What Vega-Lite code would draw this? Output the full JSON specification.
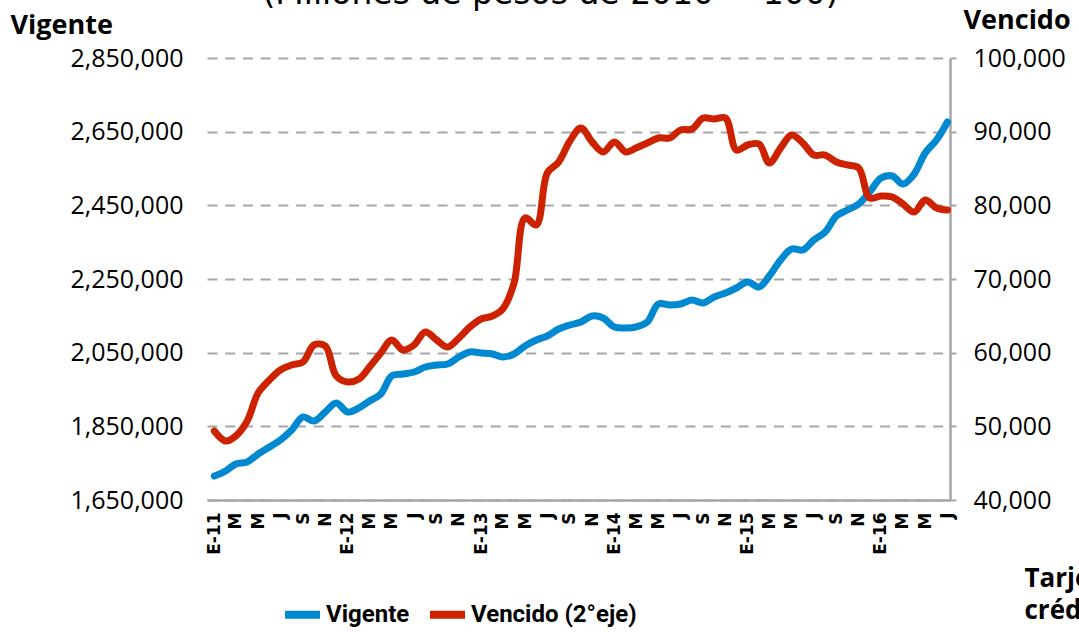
{
  "$schema": "https://vega.github.io/schema/vega-lite/v6.json",
  "autosize": "none",
  "width": 743,
  "height": 442,
  "padding": {"left": 207, "top": 58, "right": 129, "bottom": 132},
  "background": "white",
  "title": {
    "text": "(Millones de pesos de 2010 = 100)",
    "orient": "top",
    "anchor": "middle",
    "baseline": "alphabetic",
    "offset": 0,
    "dx": -28,
    "dy": 31,
    "font": "DejaVu Sans",
    "fontSize": 33,
    "fontWeight": "normal",
    "color": "black"
  },
  "data": {
    "values": [
      {"fecha": "2011-01-01", "vigente": 1715000, "vencido": 49370},
      {"fecha": "2011-02-01", "vigente": 1728700, "vencido": 48010},
      {"fecha": "2011-03-01", "vigente": 1747800, "vencido": 48690},
      {"fecha": "2011-04-01", "vigente": 1753200, "vencido": 50720},
      {"fecha": "2011-05-01", "vigente": 1774900, "vencido": 54520},
      {"fecha": "2011-06-01", "vigente": 1793900, "vencido": 56290},
      {"fecha": "2011-07-01", "vigente": 1812900, "vencido": 57650},
      {"fecha": "2011-08-01", "vigente": 1840100, "vencido": 58330},
      {"fecha": "2011-09-01", "vigente": 1875400, "vencido": 58730},
      {"fecha": "2011-10-01", "vigente": 1864500, "vencido": 61040},
      {"fecha": "2011-11-01", "vigente": 1888900, "vencido": 60900},
      {"fecha": "2011-12-01", "vigente": 1913400, "vencido": 56830},
      {"fecha": "2012-01-01", "vigente": 1888900, "vencido": 56020},
      {"fecha": "2012-02-01", "vigente": 1899800, "vencido": 56420},
      {"fecha": "2012-03-01", "vigente": 1918800, "vencido": 58050},
      {"fecha": "2012-04-01", "vigente": 1937800, "vencido": 59950},
      {"fecha": "2012-05-01", "vigente": 1986700, "vencido": 61720},
      {"fecha": "2012-06-01", "vigente": 1992100, "vencido": 60360},
      {"fecha": "2012-07-01", "vigente": 1997500, "vencido": 61040},
      {"fecha": "2012-08-01", "vigente": 2011100, "vencido": 62800},
      {"fecha": "2012-09-01", "vigente": 2016500, "vencido": 61720},
      {"fecha": "2012-10-01", "vigente": 2019200, "vencido": 60770},
      {"fecha": "2012-11-01", "vigente": 2038200, "vencido": 61990},
      {"fecha": "2012-12-01", "vigente": 2051800, "vencido": 63480},
      {"fecha": "2013-01-01", "vigente": 2049100, "vencido": 64570},
      {"fecha": "2013-02-01", "vigente": 2046400, "vencido": 64980},
      {"fecha": "2013-03-01", "vigente": 2038200, "vencido": 65930},
      {"fecha": "2013-04-01", "vigente": 2046400, "vencido": 69460},
      {"fecha": "2013-05-01", "vigente": 2068100, "vencido": 78280},
      {"fecha": "2013-06-01", "vigente": 2084400, "vencido": 77330},
      {"fecha": "2013-07-01", "vigente": 2095300, "vencido": 84390},
      {"fecha": "2013-08-01", "vigente": 2114300, "vencido": 85880},
      {"fecha": "2013-09-01", "vigente": 2125100, "vencido": 88730},
      {"fecha": "2013-10-01", "vigente": 2133300, "vencido": 90500},
      {"fecha": "2013-11-01", "vigente": 2149600, "vencido": 88600},
      {"fecha": "2013-12-01", "vigente": 2144100, "vencido": 87240},
      {"fecha": "2014-01-01", "vigente": 2119700, "vencido": 88600},
      {"fecha": "2014-02-01", "vigente": 2117000, "vencido": 87240},
      {"fecha": "2014-03-01", "vigente": 2119700, "vencido": 87780},
      {"fecha": "2014-04-01", "vigente": 2133300, "vencido": 88460},
      {"fecha": "2014-05-01", "vigente": 2182100, "vencido": 89140},
      {"fecha": "2014-06-01", "vigente": 2179400, "vencido": 89140},
      {"fecha": "2014-07-01", "vigente": 2182100, "vencido": 90230},
      {"fecha": "2014-08-01", "vigente": 2193000, "vencido": 90360},
      {"fecha": "2014-09-01", "vigente": 2184900, "vencido": 91860},
      {"fecha": "2014-10-01", "vigente": 2201100, "vencido": 91720},
      {"fecha": "2014-11-01", "vigente": 2212000, "vencido": 91860},
      {"fecha": "2014-12-01", "vigente": 2225600, "vencido": 87510},
      {"fecha": "2015-01-01", "vigente": 2241900, "vencido": 88190},
      {"fecha": "2015-02-01", "vigente": 2228300, "vencido": 88330},
      {"fecha": "2015-03-01", "vigente": 2258200, "vencido": 85750},
      {"fecha": "2015-04-01", "vigente": 2301600, "vencido": 87780},
      {"fecha": "2015-05-01", "vigente": 2331500, "vencido": 89550},
      {"fecha": "2015-06-01", "vigente": 2328700, "vencido": 88460},
      {"fecha": "2015-07-01", "vigente": 2355900, "vencido": 86830},
      {"fecha": "2015-08-01", "vigente": 2377600, "vencido": 86830},
      {"fecha": "2015-09-01", "vigente": 2421100, "vencido": 85880},
      {"fecha": "2015-10-01", "vigente": 2437300, "vencido": 85480},
      {"fecha": "2015-11-01", "vigente": 2453600, "vencido": 85070},
      {"fecha": "2015-12-01", "vigente": 2486200, "vencido": 81000},
      {"fecha": "2016-01-01", "vigente": 2524200, "vencido": 81270},
      {"fecha": "2016-02-01", "vigente": 2529600, "vencido": 81130},
      {"fecha": "2016-03-01", "vigente": 2507900, "vencido": 80180},
      {"fecha": "2016-04-01", "vigente": 2535100, "vencido": 79090},
      {"fecha": "2016-05-01", "vigente": 2592100, "vencido": 80720},
      {"fecha": "2016-06-01", "vigente": 2627400, "vencido": 79640},
      {"fecha": "2016-07-01", "vigente": 2676300, "vencido": 79370}
    ]
  },
  "encoding": {
    "x": {
      "field": "fecha",
      "type": "temporal",
      "scale": {
        "type": "utc",
        "domain": [
          {"year": 2010, "month": 12, "date": 12, "utc": true},
          {"year": 2016, "month": 7, "date": 8, "utc": true}
        ]
      },
      "axis": {
        "title": ["Tarjetas de", "crédito"],
        "titleAngle": 0,
        "titleX": 817,
        "titleY": 86,
        "titleAlign": "left",
        "titleBaseline": "alphabetic",
        "titleFont": "Open Sans",
        "titleFontSize": 26,
        "titleFontWeight": "bold",
        "titleColor": "black",
        "titleLineHeight": 32,
        "tickCount": {"interval": "month", "step": 2},
        "labelExpr": "utcmonth(datum.value) == 0 ? 'E-' + utcFormat(datum.value, '%y') : ['E','F','M','A','M','J','J','A','S','O','N','D'][utcmonth(datum.value)]",
        "labelAngle": 270,
        "labelAlign": "right",
        "labelBaseline": "middle",
        "labelFont": "DejaVu Sans",
        "labelFontSize": 17,
        "labelFontWeight": "bold",
        "labelColor": "black",
        "labelPadding": 12,
        "labelOverlap": false,
        "labelFlush": false,
        "labelBound": false,
        "ticks": false,
        "tickSize": 0,
        "grid": false,
        "domain": true,
        "domainColor": "#A6A6A6",
        "domainWidth": 2.5
      }
    }
  },
  "layer": [
    {
      "mark": {"type": "line", "strokeWidth": 7, "interpolate": "catmull-rom", "strokeCap": "round", "strokeJoin": "round"},
      "encoding": {
        "y": {
          "field": "vigente",
          "type": "quantitative",
          "scale": {"domain": [1650000, 2850000], "nice": false, "zero": false},
          "axis": {
            "title": "Vigente",
            "titleAngle": 0,
            "titleX": -197,
            "titleY": -25,
            "titleAlign": "left",
            "titleBaseline": "alphabetic",
            "titleFont": "Open Sans",
            "titleFontSize": 27,
            "titleFontWeight": "bold",
            "titleColor": "black",
            "values": [1650000, 1850000, 2050000, 2250000, 2450000, 2650000, 2850000],
            "format": ",.0f",
            "labelFont": "Open Sans",
            "labelFontSize": 25,
            "labelColor": "black",
            "labelPadding": 24,
            "ticks": false,
            "tickSize": 0,
            "domain": false,
            "grid": true,
            "gridColor": "#A6A6A6",
            "gridWidth": 2,
            "gridDash": [10, 7.7]
          }
        },
        "color": {
          "datum": "Vigente",
          "type": "nominal",
          "scale": {"domain": ["Vigente", "Vencido (2°eje)"], "range": ["#0088D1", "#CC2200"]},
          "legend": {
            "title": null,
            "orient": "none",
            "legendX": 74,
            "legendY": 535,
            "direction": "horizontal",
            "columns": 2,
            "columnPadding": 4,
            "symbolType": "stroke",
            "symbolSize": 1225,
            "symbolStrokeWidth": 8,
            "labelOffset": 2,
            "labelFont": "Roboto",
            "labelFontSize": 24,
            "labelFontWeight": "bold",
            "labelColor": "black",
            "labelLimit": 400
          }
        }
      }
    },
    {
      "mark": {"type": "line", "strokeWidth": 7, "interpolate": "catmull-rom", "strokeCap": "round", "strokeJoin": "round"},
      "encoding": {
        "y": {
          "field": "vencido",
          "type": "quantitative",
          "scale": {"domain": [40000, 100000], "nice": false, "zero": false},
          "axis": {
            "orient": "right",
            "title": "Vencido",
            "titleAngle": 0,
            "titleX": 13,
            "titleY": -30,
            "titleAlign": "left",
            "titleBaseline": "alphabetic",
            "titleFont": "Open Sans",
            "titleFontSize": 27,
            "titleFontWeight": "bold",
            "titleColor": "black",
            "values": [40000, 50000, 60000, 70000, 80000, 90000, 100000],
            "format": ",.0f",
            "labelFont": "Open Sans",
            "labelFontSize": 25,
            "labelColor": "black",
            "labelPadding": 17,
            "ticks": true,
            "tickSize": 6,
            "tickColor": "#A6A6A6",
            "tickWidth": 2,
            "domain": true,
            "domainColor": "#A6A6A6",
            "domainWidth": 2.5,
            "grid": false
          }
        },
        "color": {"datum": "Vencido (2°eje)", "type": "nominal"}
      }
    }
  ],
  "resolve": {"scale": {"y": "independent"}},
  "config": {"view": {"stroke": null}}
}
